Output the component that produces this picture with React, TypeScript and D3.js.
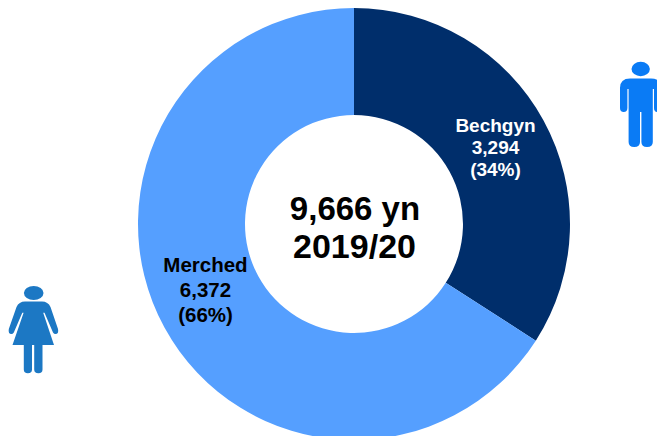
import * as d3 from "d3";

const categories = ["Bechgyn", "Merched"];
const values = [3294, 6372];
const valueLabels = ["3,294", "6,372"];
const shareLabels = ["(34%)", "(66%)"];
const colors = ["#002e6b", "#559fff"];
const labelColors = ["#ffffff", "#000000"];
const centreLines = ["9,666 yn", "2019/20"];

const WIDTH = 657;
const HEIGHT = 436;
const FONT = "'Liberation Sans', Arial, sans-serif";

const pie = d3.pie<number>().sort(null).startAngle(0).endAngle(2 * Math.PI);
const arc = d3.arc<d3.PieArcDatum<number>>().innerRadius(109).outerRadius(216);

// label placement for each slice
const labelPos = [
  { x: 495.5, y: 132, size: 19, gap: 22 },
  { x: 205.5, y: 272, size: 20.5, gap: 25 },
];

function MaleIcon() {
  return (
    <g fill="#0a7bf5">
      <ellipse cx={640.7} cy={69} rx={9.2} ry={7.2} />
      <path d="M620 88 Q620 78.5 630 78.5 L651 78.5 Q661.5 78.5 661.5 88 L661.5 108 Q661.5 112 657.5 112 Q654 112 654 108 L654 89 L652.8 89 L652.8 142 Q652.8 147 647 147 Q641.4 147 641.4 142 L641.4 112 L640 112 L640 142 Q640 147 634.2 147 Q628.6 147 628.6 142 L628.6 89 L627.4 89 L627.4 108 Q627.4 112 623.7 112 Q620 112 620 108 Z" />
    </g>
  );
}

function FemaleIcon() {
  return (
    <g fill="#1c78c4">
      <ellipse cx={33.7} cy={293} rx={9.8} ry={7} />
      <path d="M25 301.5 L42 301.5 Q48 301.5 50.5 307 L58 329 Q59 334 55.5 334 Q54 334 53 332.5 L44.5 312.7 L43.2 312.7 L54 345 L42.5 345 L42.5 369.5 Q42.5 373.3 38.4 373.3 Q34.2 373.3 34.2 369.5 L34.2 345 L32 345 L32 369.5 Q32 373.3 27.9 373.3 Q23.8 373.3 23.8 369.5 L23.8 345 L12.5 345 L23.6 312.7 L22.3 312.7 L13.8 332.5 Q12.8 334 11.3 334 Q8 334 8.8 329 L16.5 307 Q19 301.5 25 301.5 Z" />
    </g>
  );
}

export default function App() {
  const arcs = pie(values);
  return (
    <svg
      width={WIDTH}
      height={HEIGHT}
      style={{ position: "absolute", left: 0, top: 0, background: "#fff" }}
      fontFamily={FONT}
      fontWeight="bold"
    >
      <g transform="translate(354,224)">
        {arcs.map((a, i) => (
          <path key={categories[i]} d={arc(a) ?? ""} fill={colors[i]} />
        ))}
      </g>
      {categories.map((c, i) => (
        <text key={c} textAnchor="middle" fill={labelColors[i]} fontSize={labelPos[i].size}>
          <tspan x={labelPos[i].x} y={labelPos[i].y}>{c}</tspan>
          <tspan x={labelPos[i].x} dy={labelPos[i].gap}>{valueLabels[i]}</tspan>
          <tspan x={labelPos[i].x} dy={labelPos[i].gap}>{shareLabels[i]}</tspan>
        </text>
      ))}
      <text textAnchor="middle" fill="#000">
        <tspan x={355} y={220} fontSize={33}>{centreLines[0]}</tspan>
        <tspan x={354.5} y={258} fontSize={34}>{centreLines[1]}</tspan>
      </text>
      <MaleIcon />
      <FemaleIcon />
    </svg>
  );
}
